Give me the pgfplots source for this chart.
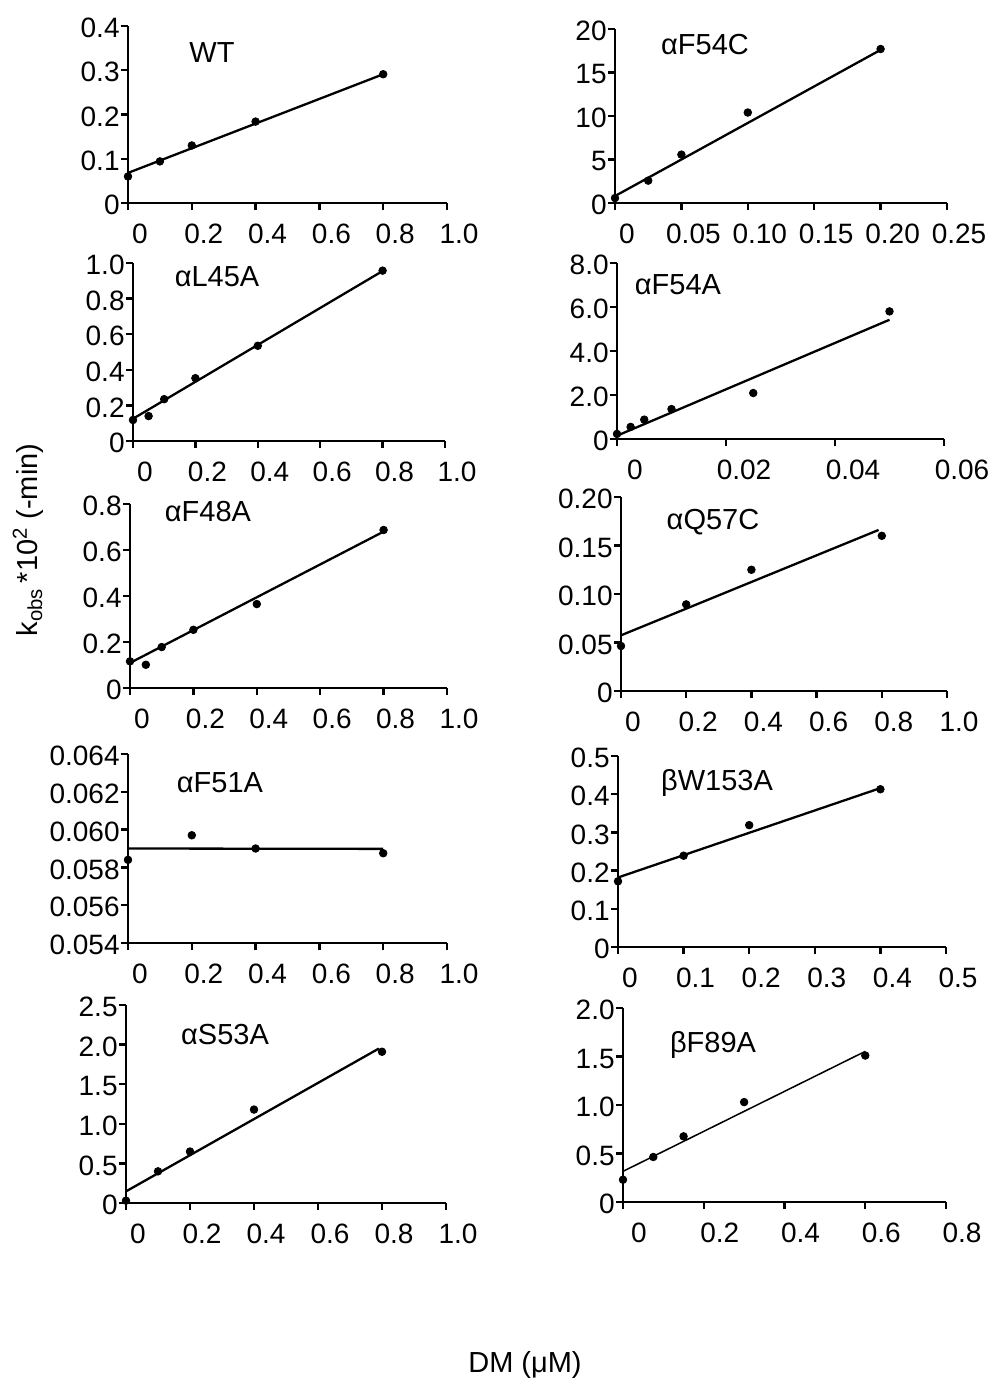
\documentclass[border=0pt]{standalone}
\usepackage{fontspec}
\setmainfont{Liberation Sans}
\usepackage{pgfplots}
\pgfplotsset{compat=1.18}
\pgfplotsset{
  panel/.style={
    scale only axis,
    axis lines=left,
    axis line style={-, line width=1.4pt},
    every outer x axis line/.append style={-},
    every outer y axis line/.append style={-},
    tick align=outside,
    major tick length=3.5pt,
    tick style={line width=1.2pt, black},
    xmin=0, ymin=0,
    clip=false,
    scaled x ticks=false, scaled y ticks=false,
    /pgf/number format/assume math mode=true,
    ticklabel style={font=\fontsize{14}{16}\selectfont},
    xticklabel style={xshift=6pt, yshift=-3.5pt},
    yticklabel style={inner sep=0.5pt, yshift=-1pt},
  },
  pts/.style={only marks, mark=*, mark size=1.9pt, black},
  fit/.style={no marks, black, line width=1.15pt},
}
\newcommand\pbox[4]{at={({#1*0.5pt},{-#4*0.5pt})}, anchor=south west, width={(#3-#1)*0.5pt}, height={(#4-#2)*0.5pt}}
\begin{document}
\begin{tikzpicture}
\useasboundingbox (0,0) rectangle (497.5pt,-695.5pt);
% WT
\begin{axis}[panel, \pbox{128}{26}{447}{203}, xmax=1.0, ymax=0.4,
  xtick={0,0.2,0.4,0.6,0.8,1.0}, xticklabels={0,0.2,0.4,0.6,0.8,1.0},
  ytick={0,0.1,0.2,0.3,0.4}, yticklabels={0,0.1,0.2,0.3,0.4}]
\addplot[pts] coordinates {(0,0.060) (0.1,0.094) (0.2,0.130) (0.4,0.184) (0.8,0.291)};
\addplot[fit] coordinates {(0,0.068) (0.8,0.291)};
\end{axis}
% aF54C
\begin{axis}[panel, \pbox{615}{29}{947}{203}, xmax=0.25, ymax=20,
  xticklabel style={xshift=0pt},
  xtick={0,0.05,0.10,0.15,0.20,0.25}, xticklabels={0,0.05,0.10,0.15,0.20,0.25},
  ytick={0,5,10,15,20}, yticklabels={0,5,10,15,20}]
\addplot[pts] coordinates {(0,0.57) (0.025,2.57) (0.05,5.56) (0.1,10.4) (0.2,17.7)};
\addplot[fit] coordinates {(0,0.8) (0.2,17.6)};
\end{axis}
% aL45A
\begin{axis}[panel, \pbox{133}{263}{445}{441}, xmax=1.0, ymax=1.0,
  xtick={0,0.2,0.4,0.6,0.8,1.0}, xticklabels={0,0.2,0.4,0.6,0.8,1.0},
  ytick={0,0.2,0.4,0.6,0.8,1.0}, yticklabels={0,0.2,0.4,0.6,0.8,1.0}]
\addplot[pts] coordinates {(0,0.118) (0.05,0.14) (0.1,0.235) (0.2,0.353) (0.4,0.535) (0.8,0.957)};
\addplot[fit] coordinates {(0,0.125) (0.8,0.955)};
\end{axis}
% aF54A
\begin{axis}[panel, \pbox{617}{263}{944}{439}, xmax=0.06, ymax=8,
  xticklabel style={xshift=3pt},
  xtick={0,0.02,0.04,0.06}, xticklabels={0,0.02,0.04,0.06},
  ytick={0,2,4,6,8}, yticklabels={0,2.0,4.0,6.0,8.0}]
\addplot[pts] coordinates {(0,0.23) (0.0025,0.55) (0.005,0.88) (0.01,1.36) (0.025,2.09) (0.05,5.8)};
\addplot[fit] coordinates {(0,0.15) (0.05,5.42)};
\end{axis}
% aF48A
\begin{axis}[panel, \pbox{130}{504}{447}{688}, xmax=1.0, ymax=0.8,
  xtick={0,0.2,0.4,0.6,0.8,1.0}, xticklabels={0,0.2,0.4,0.6,0.8,1.0},
  ytick={0,0.2,0.4,0.6,0.8}, yticklabels={0,0.2,0.4,0.6,0.8}]
\addplot[pts] coordinates {(0,0.116) (0.05,0.101) (0.1,0.178) (0.2,0.253) (0.4,0.365) (0.8,0.687)};
\addplot[fit] coordinates {(0,0.109) (0.8,0.680)};
\end{axis}
% aQ57C
\begin{axis}[panel, \pbox{621}{497}{947}{691}, xmax=1.0, ymax=0.2,
  xtick={0,0.2,0.4,0.6,0.8,1.0}, xticklabels={0,0.2,0.4,0.6,0.8,1.0},
  ytick={0,0.05,0.10,0.15,0.20}, yticklabels={0,0.05,0.10,0.15,0.20}]
\addplot[pts] coordinates {(0,0.0464) (0.2,0.0893) (0.4,0.125) (0.8,0.160)};
\addplot[fit] coordinates {(0,0.0574) (0.79,0.166)};
\end{axis}
% aF51A
\begin{axis}[panel, \pbox{128}{754}{447}{943}, xmax=1.0, ymin=0.054, ymax=0.064,
  xtick={0,0.2,0.4,0.6,0.8,1.0}, xticklabels={0,0.2,0.4,0.6,0.8,1.0},
  ytick={0.054,0.056,0.058,0.060,0.062,0.064}, yticklabels={0.054,0.056,0.058,0.060,0.062,0.064}]
\addplot[pts] coordinates {(0,0.0584) (0.2,0.0597) (0.4,0.0590) (0.8,0.05875)};
\addplot[fit] coordinates {(0,0.0590) (0.8,0.05898)};
\end{axis}
% bW153A
\begin{axis}[panel, \pbox{618}{756}{946}{947}, xmax=0.5, ymax=0.5,
  xtick={0,0.1,0.2,0.3,0.4,0.5}, xticklabels={0,0.1,0.2,0.3,0.4,0.5},
  ytick={0,0.1,0.2,0.3,0.4,0.5}, yticklabels={0,0.1,0.2,0.3,0.4,0.5}]
\addplot[pts] coordinates {(0,0.172) (0.1,0.239) (0.2,0.319) (0.4,0.413)};
\addplot[fit] coordinates {(0,0.182) (0.4,0.416)};
\end{axis}
% aS53A
\begin{axis}[panel, \pbox{126}{1005}{446}{1203}, xmax=1.0, ymax=2.5,
  xtick={0,0.2,0.4,0.6,0.8,1.0}, xticklabels={0,0.2,0.4,0.6,0.8,1.0},
  ytick={0,0.5,1.0,1.5,2.0,2.5}, yticklabels={0,0.5,1.0,1.5,2.0,2.5}]
\addplot[pts] coordinates {(0,0.03) (0.1,0.40) (0.2,0.65) (0.4,1.18) (0.8,1.91)};
\addplot[fit] coordinates {(0,0.147) (0.79,1.95)};
\end{axis}
% bF89A
\begin{axis}[panel, \pbox{623}{1008}{946}{1202}, xmax=0.8, ymax=2.0,
  xticklabel style={xshift=2pt},
  xtick={0,0.2,0.4,0.6,0.8}, xticklabels={0,0.2,0.4,0.6,0.8},
  ytick={0,0.5,1.0,1.5,2.0}, yticklabels={0,0.5,1.0,1.5,2.0}]
\addplot[pts] coordinates {(0,0.23) (0.075,0.464) (0.15,0.677) (0.3,1.03) (0.6,1.51)};
\addplot[fit, line width=0.75pt] coordinates {(0,0.316) (0.6,1.553)};
\end{axis}
% panel titles
\begin{scope}[every node/.style={font=\fontsize{14.5}{16}\selectfont, inner sep=0pt}]
\node at ({212*0.5pt},{-53*0.5pt}) {WT};
\node at ({705*0.5pt},{-45*0.5pt}) {αF54C};
\node at ({217*0.5pt},{-277*0.5pt}) {αL45A};
\node at ({678*0.5pt},{-285*0.5pt}) {αF54A};
\node at ({208*0.5pt},{-512*0.5pt}) {αF48A};
\node at ({713*0.5pt},{-522*0.5pt}) {αQ57C};
\node at ({220*0.5pt},{-783*0.5pt}) {αF51A};
\node at ({717*0.5pt},{-783*0.5pt}) {βW153A};
\node at ({225*0.5pt},{-1035*0.5pt}) {αS53A};
\node at ({713*0.5pt},{-1045*0.5pt}) {βF89A};
\node[rotate=90] at ({28*0.5pt},{-540*0.5pt}) {k\textsubscript{obs}\,*10\textsuperscript{2} (-min)};
\node at ({525*0.5pt},{-1365*0.5pt}) {DM (μM)};
\end{scope}
\end{tikzpicture}
\end{document}
